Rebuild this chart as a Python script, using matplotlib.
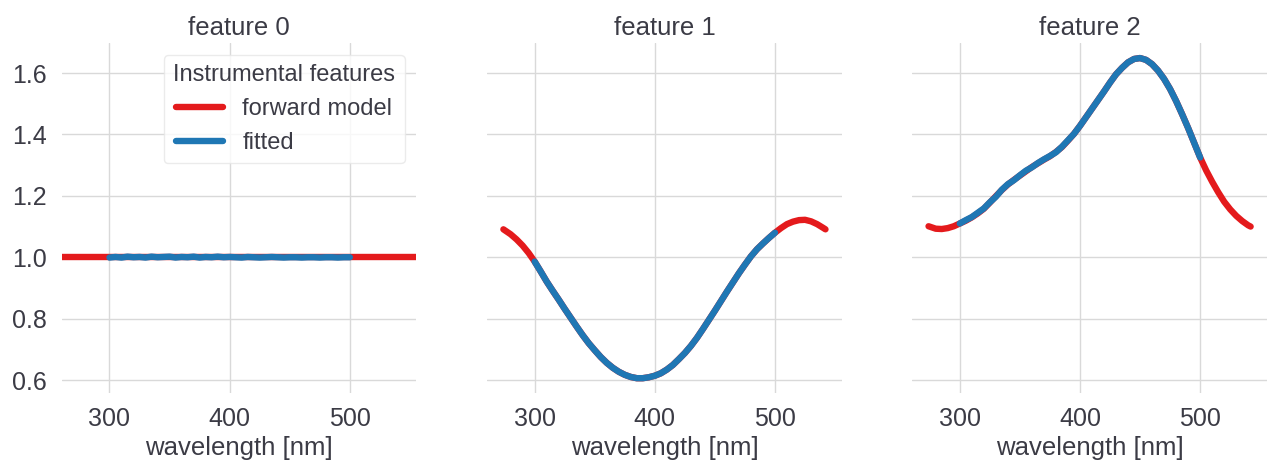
import matplotlib
matplotlib.use("Agg")
import matplotlib.pyplot as plt
import seaborn as sns

# forward model
wl_model = [274, 280, 285, 290, 295, 300, 305, 310, 315, 320, 325, 330, 335, 340, 345,
            350, 355, 360, 365, 370, 375, 380, 385, 390, 395, 400, 405, 410, 415, 420,
            425, 430, 435, 440, 445, 450, 455, 460, 465, 470, 475, 480, 485, 490, 495,
            500, 505, 510, 515, 520, 525, 530, 535, 540, 542]
f0_model = 1.0
f1_model = [1.091, 1.075, 1.058, 1.038, 1.014, 0.986, 0.954, 0.921, 0.891, 0.862,
            0.832, 0.803, 0.774, 0.746, 0.720, 0.697, 0.675, 0.656, 0.640, 0.627,
            0.617, 0.610, 0.606, 0.606, 0.609, 0.614, 0.622, 0.634, 0.649, 0.668,
            0.688, 0.711, 0.737, 0.766, 0.796, 0.826, 0.857, 0.888, 0.918, 0.948,
            0.976, 1.003, 1.026, 1.045, 1.063, 1.080, 1.095, 1.108, 1.116, 1.121,
            1.122, 1.117, 1.108, 1.096, 1.091]
f2_model = [1.101, 1.093, 1.092, 1.095, 1.101, 1.110, 1.119, 1.130, 1.143, 1.158,
            1.178, 1.199, 1.219, 1.237, 1.252, 1.266, 1.280, 1.294, 1.306, 1.318,
            1.329, 1.343, 1.359, 1.380, 1.402, 1.428, 1.456, 1.484, 1.512, 1.540,
            1.569, 1.596, 1.617, 1.635, 1.646, 1.649, 1.643, 1.629, 1.608, 1.581,
            1.548, 1.509, 1.466, 1.421, 1.373, 1.325, 1.283, 1.246, 1.212, 1.181,
            1.156, 1.135, 1.118, 1.104, 1.100]

# fitted features (300-500 nm)
wl_fit = [300, 305, 310, 315, 320, 325, 330, 335, 340, 345, 350, 355, 360, 365,
          370, 375, 380, 385, 390, 395, 400, 405, 410, 415, 420, 425, 430, 435,
          440, 445, 450, 455, 460, 465, 470, 475, 480, 485, 490, 495, 500]
f0_fit = [0.999, 1.001, 0.999, 1.002, 1.000, 1.001, 0.999, 1.002, 1.000, 1.001,
          1.002, 0.999, 1.001, 1.000, 1.002, 0.999, 1.001, 1.000, 1.002, 1.000,
          1.001, 1.000, 0.999, 1.001, 1.000, 0.999, 1.000, 1.001, 1.000, 0.999,
          1.000, 1.000, 0.999, 1.000, 1.000, 0.999, 1.000, 1.000, 0.999, 1.000, 1.000]
f1_fit = [0.986, 0.954, 0.921, 0.891, 0.862, 0.832, 0.803, 0.774, 0.746, 0.720,
          0.697, 0.675, 0.656, 0.640, 0.627, 0.617, 0.610, 0.606, 0.606, 0.609,
          0.614, 0.622, 0.634, 0.649, 0.668, 0.688, 0.711, 0.737, 0.766, 0.796,
          0.826, 0.857, 0.888, 0.918, 0.948, 0.976, 1.003, 1.026, 1.045, 1.063, 1.080]
f2_fit = [1.110, 1.121, 1.131, 1.145, 1.159, 1.179, 1.197, 1.220, 1.238, 1.251,
          1.267, 1.282, 1.293, 1.307, 1.319, 1.330, 1.342, 1.360, 1.381, 1.402,
          1.428, 1.456, 1.484, 1.512, 1.540, 1.569, 1.596, 1.617, 1.635, 1.646,
          1.649, 1.643, 1.629, 1.608, 1.581, 1.548, 1.509, 1.466, 1.421, 1.373, 1.325]

titles = ["feature 0", "feature 1", "feature 2"]
red = "#e41a1c"
blue = "#1f77b4"
txt = "#3b3b45"

sns.set_theme(style="whitegrid")
plt.rcParams["font.family"] = ["Liberation Sans", "DejaVu Sans"]
plt.rcParams["text.color"] = txt
plt.rcParams["xtick.color"] = txt
plt.rcParams["ytick.color"] = txt
plt.rcParams["axes.labelcolor"] = txt

fig, axes = plt.subplots(1, 3, figsize=(12.68, 4.65), dpi=100, sharex=True, sharey=True)
fig.subplots_adjust(left=0.049, right=0.999, bottom=0.155, top=0.9075, wspace=0.2)

models = [None, f1_model, f2_model]
fits = [f0_fit, f1_fit, f2_fit]
lw = 4.6

for i, ax in enumerate(axes):
    if models[i] is None:
        ax.axhline(f0_model, color=red, lw=lw, solid_capstyle="round", label="forward model")
    else:
        ax.plot(wl_model, models[i], color=red, lw=lw, solid_capstyle="round", label="forward model")
    ax.plot(wl_fit, fits[i], color=blue, lw=lw, solid_capstyle="round", label="fitted")
    ax.set_title(titles[i], fontsize=18.5)
    ax.set_xlabel("wavelength [nm]", fontsize=18.5)
    for s in ax.spines.values():
        s.set_visible(False)
    ax.tick_params(axis="both", length=0, labelsize=18)
    ax.tick_params(axis="x", pad=10)
    ax.tick_params(axis="y", pad=11)
    ax.grid(True, color=".85", lw=1)

axes[0].set_xticks([300, 400, 500])
axes[0].set_yticks([0.6, 0.8, 1.0, 1.2, 1.4, 1.6])
axes[0].set_xlim(260.6, 555.4)
axes[0].set_ylim(0.558, 1.698)

leg = axes[0].legend(title="Instrumental features", loc="upper right", fontsize=17,
                     title_fontsize=17, frameon=True, handlelength=2.0)
leg.get_frame().set_edgecolor(".9")

fig.savefig("out.png", dpi=100)
